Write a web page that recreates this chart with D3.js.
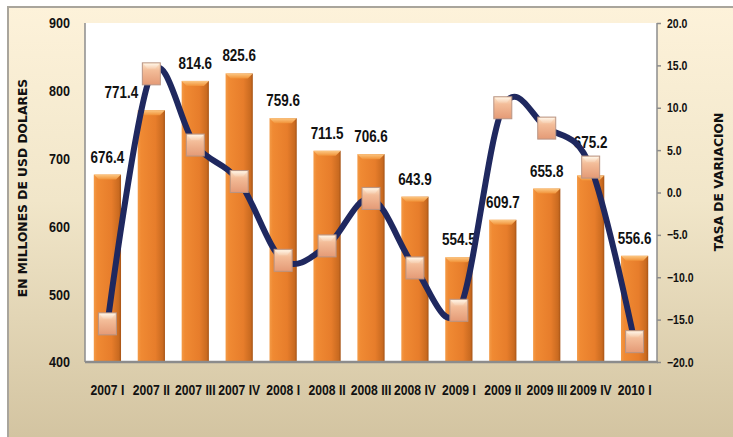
<!DOCTYPE html>
<html>
<head>
<meta charset="utf-8">
<script src="https://cdnjs.cloudflare.com/ajax/libs/d3/7.8.5/d3.min.js"></script>
<style>
  html, body { margin: 0; padding: 0; background: #fff; }
  svg text { font-family: "Liberation Sans", Arial, sans-serif; font-weight: bold; fill: #111; }
  .axisTitle { font-family: "DejaVu Sans", Verdana, sans-serif !important; font-size: 12.3px; }
</style>
</head>
<body>
<div id="chart"></div>
<script>
var QUARTERS = ["2007 I","2007 II","2007 III","2007 IV",
                "2008 I","2008 II","2008 III","2008 IV",
                "2009 I","2009 II","2009 III","2009 IV","2010 I"];
// millones de USD
var MONTOS = [676.4, 771.4, 814.6, 825.6, 759.6, 711.5, 706.6, 643.9, 554.5, 609.7, 655.8, 675.2, 556.6];
// tasa de variacion (%)
var TASAS = [-15.5, 14.0, 5.6, 1.3, -8.0, -6.3, -0.7, -8.9, -13.9, 10.0, 7.6, 3.0, -17.6];
var LEFT_TICKS = [400, 500, 600, 700, 800, 900];
var RIGHT_TICKS = [20, 15, 10, 5, 0, -5, -10, -15, -20];

var W = 733, H = 437;
var plot = { left: 85, right: 657, top: 23, bottom: 362 };
// the original font is narrower than what we have, squeeze it a bit
var SQUEEZE = 0.84;

// a couple of labels were nudged by hand in the original
var LABEL_SHIFT = { "2007 II": [-30, 0], "2009 IV": [0, -15] };

var svg = d3.select("#chart").append("svg")
    .attr("width", W)
    .attr("height", H);

var defs = svg.append("defs");

function linGrad(id, x2, y2, stops) {
    var g = defs.append("linearGradient").attr("id", id)
        .attr("x1", 0).attr("y1", 0).attr("x2", x2).attr("y2", y2);
    stops.forEach(function(s) {
        g.append("stop").attr("offset", s[0]).attr("stop-color", s[1]);
    });
}
linGrad("bg", 0, 1, [["0%", "#fdf2da"], ["45%", "#f1e6c9"], ["100%", "#d3c4a1"]]);
linGrad("bar", 1, 0, [["0%", "#f39a46"], ["12%", "#f08a33"], ["65%", "#e77d2b"], ["92%", "#c96a20"], ["100%", "#a65416"]]);
linGrad("barTop", 0, 1, [["0%", "#fcc884"], ["100%", "#f19238"]]);
linGrad("marker", 0, 1, [["0%", "#fde6cc"], ["35%", "#f3bc98"], ["100%", "#e49a76"]]);
linGrad("markerTop", 0, 1, [["0%", "#fff3e4"], ["100%", "#f6cdae"]]);

// frame
svg.append("rect")
    .attr("x", 8).attr("y", 7)
    .attr("width", W - 8).attr("height", H - 7)
    .attr("fill", "url(#bg)");
svg.append("path")
    .attr("d", "M8 " + H + " L8 7 L" + W + " 7")
    .attr("fill", "none")
    .attr("stroke", "#a9a59c")
    .attr("stroke-width", 2);

svg.append("rect")
    .attr("x", plot.left).attr("y", plot.top)
    .attr("width", plot.right - plot.left)
    .attr("height", plot.bottom - plot.top)
    .attr("fill", "#fff");

var x = d3.scaleBand()
    .domain(QUARTERS)
    .range([plot.left, plot.right])
    .paddingInner(0.38)
    .paddingOuter(0.2);

var yLeft = d3.scaleLinear()
    .domain([400, 900])
    .range([plot.bottom, plot.top]);

var yRight = d3.scaleLinear()
    .domain([-20, 20])
    .range([plot.bottom, plot.top]);

var data = QUARTERS.map(function(q, i) {
    return { q: q, monto: MONTOS[i], tasa: TASAS[i] };
});

// bars
var bars = svg.append("g").selectAll("g.bar")
    .data(data)
    .enter().append("g").attr("class", "bar");

bars.append("rect")
    .attr("x", function(d) { return x(d.q); })
    .attr("y", function(d) { return yLeft(d.monto); })
    .attr("width", x.bandwidth())
    .attr("height", function(d) { return plot.bottom - yLeft(d.monto); })
    .attr("fill", "url(#bar)");

bars.append("path")
    .attr("d", function(d) {
        var x0 = x(d.q), x1 = x0 + x.bandwidth(), t = yLeft(d.monto), b = 5;
        return "M" + x0 + " " + t + " L" + x1 + " " + t +
            " L" + (x1 - b) + " " + (t + b) + " L" + (x0 + b) + " " + (t + b) + " Z";
    })
    .attr("fill", "url(#barTop)");

// axes lines
svg.append("line")
    .attr("x1", plot.left).attr("x2", plot.left)
    .attr("y1", plot.top).attr("y2", plot.bottom)
    .attr("stroke", "#8c8c8c").attr("stroke-width", 1.5);
svg.append("line")
    .attr("x1", plot.right).attr("x2", plot.right)
    .attr("y1", plot.top).attr("y2", plot.bottom)
    .attr("stroke", "#8c8c8c").attr("stroke-width", 1.5);
svg.append("line")
    .attr("x1", plot.left).attr("x2", plot.right + 1)
    .attr("y1", plot.bottom).attr("y2", plot.bottom)
    .attr("stroke", "#8c8c8c").attr("stroke-width", 2.5);

// left axis
var leftAxis = svg.append("g")
    .attr("transform", "translate(" + plot.left + ",0)")
    .call(d3.axisLeft(yLeft).tickValues(LEFT_TICKS).tickSize(0).tickPadding(15 / SQUEEZE).tickFormat(d3.format("d")));
leftAxis.select(".domain").remove();
leftAxis.selectAll("text")
    .style("font-size", "15px")
    .attr("fill", "#111")
    .attr("transform", "scale(" + SQUEEZE + ",1)");

// right axis
var rightAxis = svg.append("g")
    .attr("transform", "translate(" + plot.right + ",0)")
    .call(d3.axisRight(yRight).tickValues(RIGHT_TICKS).tickSize(4).tickPadding(10 / SQUEEZE - 4).tickFormat(d3.format(".1f")));
rightAxis.select(".domain").remove();
rightAxis.selectAll("line").attr("stroke", "#8c8c8c").attr("stroke-width", 1.5);
rightAxis.selectAll("text")
    .style("font-size", "12.5px")
    .attr("fill", "#111")
    .attr("transform", "scale(" + SQUEEZE + ",1)");

// category axis
var bottomAxis = svg.append("g")
    .attr("transform", "translate(0," + plot.bottom + ")")
    .call(d3.axisBottom(x).tickSize(0).tickPadding(23));
bottomAxis.select(".domain").remove();
bottomAxis.selectAll("text")
    .style("font-size", "14.5px")
    .attr("fill", "#111")
    .attr("transform", "scale(" + SQUEEZE + ",1)");

// value labels
svg.append("g").selectAll("text")
    .data(data)
    .enter().append("text")
    .attr("text-anchor", "middle")
    .style("font-size", "16px")
    .attr("transform", function(d) {
        var s = LABEL_SHIFT[d.q] || [0, 0];
        var lx = x(d.q) + x.bandwidth() / 2 + s[0];
        var ly = yLeft(d.monto) - 12 + s[1];
        return "translate(" + lx + "," + ly + ") scale(" + SQUEEZE + ",1)";
    })
    .text(function(d) { return d3.format(".1f")(d.monto); });

// tasa line
var line = d3.line()
    .x(function(d) { return x(d.q) + x.bandwidth() / 2; })
    .y(function(d) { return yRight(d.tasa); })
    .curve(d3.curveCardinal.tension(0));

svg.append("path")
    .datum(data)
    .attr("d", line)
    .attr("fill", "none")
    .attr("stroke", "#1f285f")
    .attr("stroke-width", 6)
    .attr("stroke-linecap", "round");

var MW = 18, MH = 22;
var markers = svg.append("g").selectAll("g.marker")
    .data(data)
    .enter().append("g").attr("class", "marker")
    .attr("transform", function(d) {
        return "translate(" + (x(d.q) + x.bandwidth() / 2 - MW / 2) + "," + (yRight(d.tasa) - MH / 2) + ")";
    });
markers.append("rect")
    .attr("width", MW).attr("height", MH)
    .attr("fill", "url(#marker)")
    .attr("stroke", "#b89484").attr("stroke-width", 1);
markers.append("path")
    .attr("d", "M1 1 L" + (MW - 1) + " 1 L" + (MW - 5) + " 6 L5 6 Z")
    .attr("fill", "url(#markerTop)");

// axis titles
svg.append("text")
    .attr("class", "axisTitle")
    .attr("text-anchor", "middle")
    .attr("transform", "translate(27,188) rotate(-90)")
    .text("EN MILLONES DE USD DOLARES");

svg.append("text")
    .attr("class", "axisTitle")
    .attr("text-anchor", "middle")
    .attr("transform", "translate(723,182) rotate(-90)")
    .text("TASA DE VARIACION");
</script>
</body>
</html>
